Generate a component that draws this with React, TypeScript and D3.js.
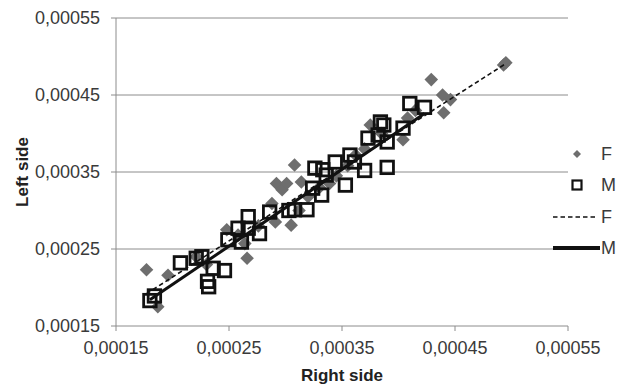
import React, { useEffect } from 'react';
import * as d3 from 'd3';

// F series (grey diamonds): [right side, left side]
const femaleX = [
  0.000177, 0.000196, 0.000187, 0.000221, 0.00023, 0.000248, 0.000264, 0.000266, 0.000258, 0.000276,
  0.000288, 0.000291, 0.000292, 0.000297, 0.000301, 0.000305, 0.000308, 0.000314, 0.000312, 0.00032,
  0.00033, 0.000339, 0.000345, 0.000355, 0.000362, 0.00037, 0.000375, 0.000385, 0.000404, 0.000408,
  0.000415, 0.000429, 0.000439, 0.000446, 0.00044, 0.000495, 0.000493,
];
const femaleY = [
  0.000223, 0.000216, 0.000175, 0.00024, 0.00023, 0.000275, 0.000257, 0.000238, 0.000268, 0.00028,
  0.000309, 0.000285, 0.000335, 0.000327, 0.000335, 0.000281, 0.000359, 0.000337, 0.0003, 0.000318,
  0.00033, 0.000335, 0.000345, 0.000358, 0.000372, 0.00038, 0.000411, 0.0004, 0.000392, 0.00042,
  0.00043, 0.00047, 0.00045, 0.000444, 0.000427, 0.000492, 0.000489,
];

// M series (open squares)
const maleX = [
  0.00018, 0.000184, 0.000207, 0.000221, 0.000226, 0.000231, 0.000232, 0.000236, 0.000246, 0.000249,
  0.000258, 0.000261, 0.000267, 0.000267, 0.000277, 0.000286, 0.000303, 0.000308, 0.000319, 0.000324,
  0.000326, 0.000333, 0.000332, 0.000336, 0.000344, 0.000353, 0.000357, 0.000361, 0.00037, 0.000373,
  0.000382, 0.000384, 0.000387, 0.00039, 0.00039, 0.000404, 0.00041, 0.000423,
];
const maleY = [
  0.000183, 0.000189, 0.000232, 0.000238, 0.00024, 0.000208, 0.000201, 0.000225, 0.000222, 0.000262,
  0.000277, 0.000259, 0.000292, 0.000277, 0.00027, 0.000298, 0.0003, 0.000301, 0.000301, 0.000329,
  0.000355, 0.000353, 0.00032, 0.000346, 0.000363, 0.000333, 0.000372, 0.000363, 0.000352, 0.000394,
  0.000398, 0.000415, 0.000411, 0.000389, 0.000356, 0.000407, 0.000439, 0.000434,
];

// linear trendlines: [slope, intercept]
const femaleTrend = [0.94, 0.0000255];
const maleTrend = [0.996, 0.0000047];

const ticks = [0.00015, 0.00025, 0.00035, 0.00045, 0.00055];
const legendLabels = ['F', 'M', 'F', 'M'];

const width = 620;
const height = 388;
const margin = { top: 18, right: 52, bottom: 62, left: 116 };
const font = '"Liberation Sans", Arial, sans-serif';
const fmt = (v: number) => v.toFixed(5).replace('.', ',');

export default function App() {
  useEffect(() => {
    document.body.style.margin = '0';
  }, []);

  const x = d3.scaleLinear().domain([0.00015, 0.00055]).range([margin.left, width - margin.right]);
  const y = d3.scaleLinear().domain([0.00015, 0.00055]).range([height - margin.bottom, margin.top]);

  const fPts = femaleX.map((v, i) => [v, femaleY[i]]);
  const mPts = maleX.map((v, i) => [v, maleY[i]]);

  const trend = (xs: number[], t: number[]) => {
    const [a, b] = d3.extent(xs) as [number, number];
    return d3.line()([
      [x(a), y(t[0] * a + t[1])],
      [x(b), y(t[0] * b + t[1])],
    ]) as string;
  };

  const diamond = d3.symbol(d3.symbolSquare, 92)() as string;
  const smallDiamond = d3.symbol(d3.symbolSquare, 32)() as string;
  const sq = 12.5;

  const gridColor = '#8c8c8c';
  const textColor = '#3a3a3a';
  const x0 = margin.left;
  const x1 = width - margin.right;
  const yBottom = height - margin.bottom;

  return (
    <svg width={width} height={height} style={{ display: 'block', background: '#fff' }} fontFamily={font}>
      {/* horizontal gridlines + y ticks */}
      {ticks.map((t) => (
        <g key={`gy${t}`}>
          <line x1={x0 - 5} x2={t === 0.00015 ? x0 : x1} y1={y(t)} y2={y(t)} stroke={gridColor} />
          <text x={x0 - 16} y={y(t)} dy="0.35em" textAnchor="end" fontSize={18} fill={textColor}>
            {fmt(t)}
          </text>
        </g>
      ))}
      {/* axes */}
      <line x1={x0} x2={x0} y1={margin.top} y2={yBottom} stroke={gridColor} />
      <line x1={x0} x2={x1} y1={yBottom} y2={yBottom} stroke={gridColor} />
      {ticks.map((t) => (
        <g key={`gx${t}`}>
          <line x1={x(t)} x2={x(t)} y1={yBottom} y2={yBottom + 5} stroke={gridColor} />
          <text x={x(t)} y={yBottom + 28} textAnchor="middle" fontSize={18} fill={textColor}>
            {fmt(t)}
          </text>
        </g>
      ))}

      {/* F points */}
      {fPts.map((p, i) => (
        <path key={`f${i}`} d={diamond} transform={`translate(${x(p[0])},${y(p[1])}) rotate(45)`} fill="#6e6e6e" />
      ))}
      {/* M points */}
      {mPts.map((p, i) => (
        <rect
          key={`m${i}`}
          x={x(p[0]) - sq / 2}
          y={y(p[1]) - sq / 2}
          width={sq}
          height={sq}
          fill="none"
          stroke="#111"
          strokeWidth={2.8}
        />
      ))}

      {/* trendlines */}
      <path d={trend(femaleX, femaleTrend)} stroke="#111" strokeWidth={1.6} strokeDasharray="4.5,3" fill="none" />
      <path d={trend(maleX, maleTrend)} stroke="#111" strokeWidth={3} fill="none" />

      {/* axis titles */}
      <text x={(x0 + x1) / 2} y={381} textAnchor="middle" fontSize={17} fontWeight="bold" fill="#222">
        Right side
      </text>
      <text
        transform={`translate(28,${(margin.top + yBottom) / 2}) rotate(-90)`}
        textAnchor="middle"
        fontSize={17}
        fontWeight="bold"
        fill="#222"
      >
        Left side
      </text>

      {/* legend */}
      <g fontSize={18} fill={textColor}>
        <path d={smallDiamond} transform="translate(577,154) rotate(45)" fill="#6e6e6e" />
        <rect x={577 - 4.5} y={185 - 4.5} width={9} height={9} fill="none" stroke="#111" strokeWidth={2.2} />
        <line x1={553} x2={598} y1={217} y2={217} stroke="#111" strokeWidth={1.6} strokeDasharray="4.5,3" />
        <line x1={553} x2={600} y1={248} y2={248} stroke="#111" strokeWidth={4} />
        {legendLabels.map((l, i) => (
          <text key={`l${i}`} x={601} y={[154, 185, 217, 248][i]} dy="0.35em">
            {l}
          </text>
        ))}
      </g>
    </svg>
  );
}
